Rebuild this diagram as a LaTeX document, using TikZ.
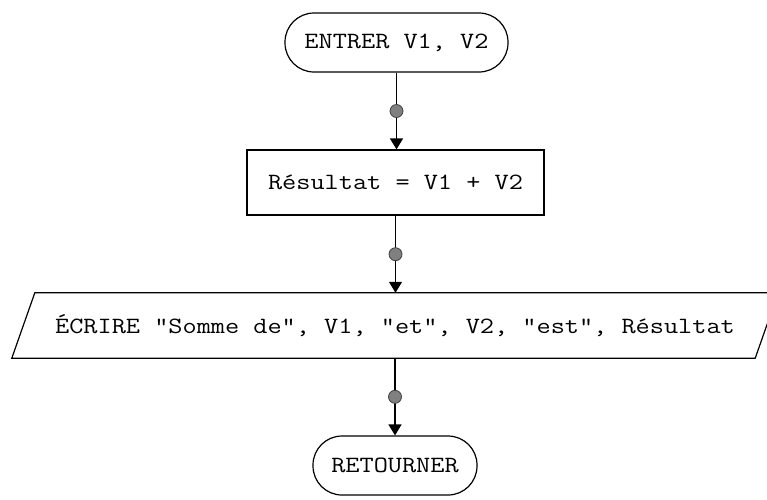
\documentclass[tikz,border=0pt]{standalone}
\usepackage{fontspec}
\newfontfamily\courfont{Latin Modern Mono}[FakeStretch=1.18]
\usetikzlibrary{arrows.meta}
\begin{document}
\begin{tikzpicture}[x=1pt,y=-1pt,
  every node/.style={font=\courfont\fontsize{23.3}{26}\selectfont, inner sep=0pt},
  term/.style={draw, line width=1.2pt, rounded corners=29pt, minimum height=59pt},
  proc/.style={draw, line width=1.2pt, minimum height=65pt},
  flow/.style={line width=1.2pt, -{Triangle[width=13pt,length=11pt]}},
  dot/.style={circle, draw=black!75, fill=black!50, line width=0.8pt, minimum size=13pt, inner sep=0pt}
]
\useasboundingbox (0,0) rectangle (767,499);
\begin{scope}
\clip (0,0) rectangle (767,499);
\node[term, minimum width=223pt] (start) at (396.5,42.5) {ENTRER V1, V2};
\node[proc, minimum width=297pt] (calc) at (395.5,182.5) {Résultat = V1 + V2};
\node[minimum width=743pt, minimum height=65pt] (io) at (395,325.5) {ÉCRIRE "Somme de", V1, "et", V2, "est", Résultat};
\draw[line width=1.2pt] ([xshift=11.5pt]io.north west) -- ([xshift=11.5pt]io.north east)
  -- ([xshift=-11.5pt]io.south east) -- ([xshift=-11.5pt]io.south west) -- cycle;
\node[term, minimum width=164pt] (end) at (395,465.5) {RETOURNER};
\draw[flow] (start.south) -- node[dot]{} (start.south |- calc.north);
\draw[flow] (calc.south) -- node[dot]{} (calc.south |- io.north);
\draw[flow] (io.south) -- node[dot]{} (io.south |- end.north);
\end{scope}
\end{tikzpicture}
\end{document}
